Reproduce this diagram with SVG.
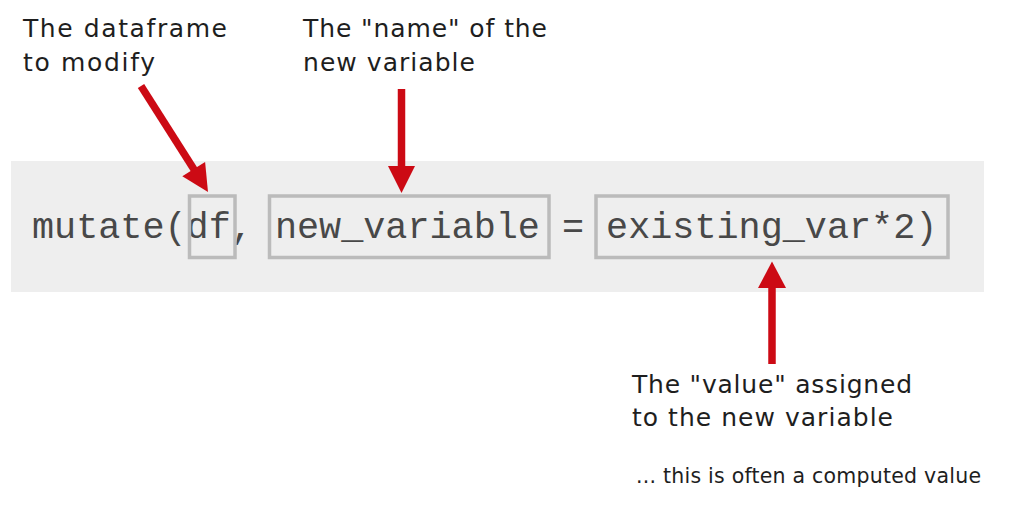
<svg xmlns="http://www.w3.org/2000/svg" width="1024" height="510" viewBox="0 0 1024 510">
<style>
.lbl{font-family:"DejaVu Sans","Noto Sans",sans-serif;font-size:25px;fill:#1e1e1e}
.small{font-family:"DejaVu Sans","Noto Sans",sans-serif;font-size:20.5px;fill:#1e1e1e}
.code{font-family:"Courier New","Liberation Mono",monospace;font-size:36.8px;fill:#484848}
.box{fill:none;stroke:#bbbbbb;stroke-width:3.5}
.shaft{stroke:#cc0a14;stroke-width:7.5;fill:none}
.head{fill:#cc0a14}
</style>
<rect width="1024" height="510" fill="#ffffff"/>
<g id="panel">
<rect x="11" y="161" width="973" height="131" fill="#eeeeee"/>
<text class="code" x="32" y="238">mutate(df, new_variable = existing_var*2)</text>
</g>
<g id="box-df"><rect class="box" x="189.5" y="196" width="45.5" height="61.5"/></g>
<g id="box-name"><rect class="box" x="269.5" y="196" width="279.5" height="61.5"/></g>
<g id="box-value"><rect class="box" x="596" y="196" width="352" height="61.5"/></g>
<g id="label-df">
<text class="lbl" x="23" y="37" textLength="204" lengthAdjust="spacing">The dataframe</text>
<text class="lbl" x="23" y="71" textLength="132" lengthAdjust="spacing">to modify</text>
</g>
<g id="label-name">
<text class="lbl" x="303" y="37" textLength="244" lengthAdjust="spacing">The "name" of the</text>
<text class="lbl" x="303" y="71" textLength="172" lengthAdjust="spacing">new variable</text>
</g>
<g id="label-value">
<text class="lbl" x="632" y="393" textLength="280" lengthAdjust="spacing">The "value" assigned</text>
<text class="lbl" x="632" y="426" textLength="261" lengthAdjust="spacing">to the new variable</text>
</g>
<g id="note">
<text class="small" x="636" y="483" textLength="345" lengthAdjust="spacing">... this is often a computed value</text>
</g>
<g id="connectors">
<line class="shaft" x1="141" y1="86" x2="195" y2="171"/>
<polygon class="head" points="208,192 205.1,162 182.3,176.3"/>
<line class="shaft" x1="401.5" y1="89" x2="401.5" y2="168"/>
<polygon class="head" points="388,166 415,166 401.5,193"/>
<line class="shaft" x1="772" y1="364" x2="772" y2="286"/>
<polygon class="head" points="758,288 786,288 772,261.5"/>
</g>
</svg>
